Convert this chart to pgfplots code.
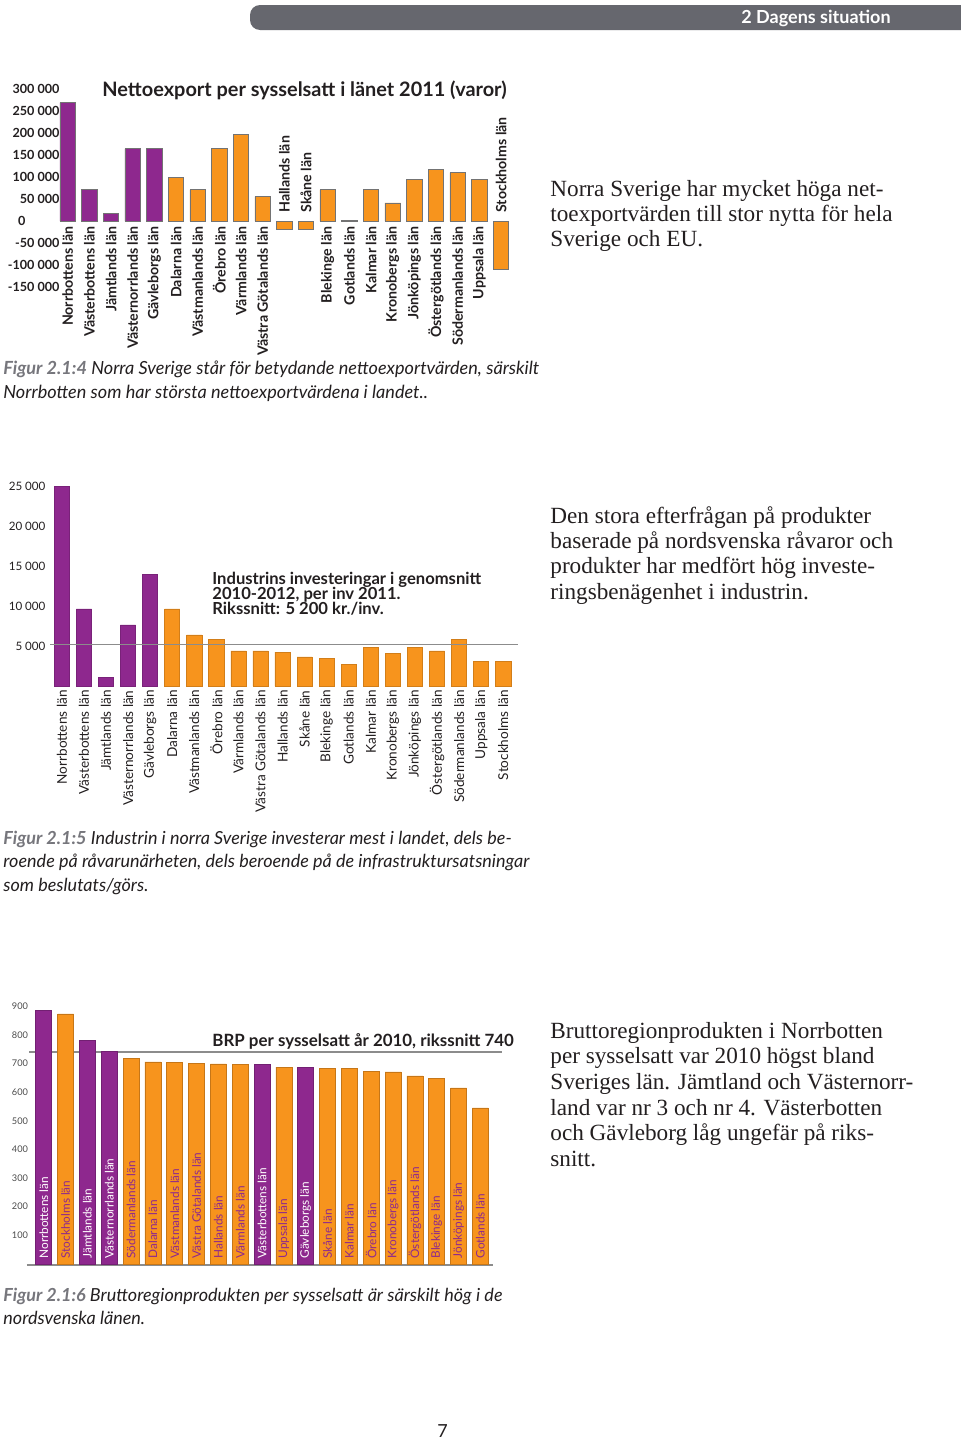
\documentclass[border=0pt]{standalone}
\usepackage{pgfplots}
\pgfplotsset{compat=1.18}
\usepackage{fontspec}
\setmainfont{Lato}
\newfontfamily\serif{Liberation Serif}
\definecolor{purp}{HTML}{8E288E}
\definecolor{orng}{HTML}{F7941D}
\definecolor{hdr}{HTML}{66676E}
\definecolor{txt}{HTML}{231F20}
\definecolor{figg}{HTML}{76767C}
\definecolor{lin}{HTML}{8C8C8C}
\newcommand{\fs}[1]{\fontsize{#1}{#1}\selectfont}
\newcommand{\tl}[4]{\node[anchor=base west, inner sep=0pt, text=txt, font=#3] at (#1,#2) {#4};}
\newcommand{\la}[2]{\node[yshift=-2.5pt, rotate=90, anchor=east, inner sep=0pt, font=\bfseries\fs{7.1}, text=txt] at (axis cs:#1,0) {#2};}
\newcommand{\lb}[2]{\node[yshift=4pt, rotate=90, anchor=west, inner sep=0pt, font=\bfseries\fs{7.1}, text=txt] at (axis cs:#1,0) {#2};}
\newcommand{\lc}[3]{\node[yshift=2.5pt, rotate=90, anchor=west, inner sep=0pt, font=\fs{5.9}, text=#3] at (axis cs:#1,0) {#2};}
\pgfplotsset{scaled y ticks=false}
\begin{document}
\begin{tikzpicture}[x=0.5pt,y=-0.5pt]
\path[use as bounding box] (0,0) rectangle (960,1440);
\fill[white] (0,0) rectangle (960,1440);
% header
\fill[hdr, rounded corners=5pt] (250,5) rectangle (990,30);
\node[anchor=base west, inner sep=0pt, text=white, font=\bfseries\fs{9}] at (741,24) {2 Dagens situation};

% ---------------- Chart 1 ----------------
\begin{axis}[at={(28.45pt,-44.5pt)}, anchor=north west, scale only axis,
  width=227.5pt, height=99pt, xmin=-0.5, xmax=20.5, ymin=-150000, ymax=300000,
  axis line style={draw=none}, major tick length=0pt, xtick=\empty,
  ytick={-150000,-100000,-50000,0,50000,100000,150000,200000,250000,300000},
  yticklabels={-150 000,-100 000,-50 000,{0\hspace*{17pt}},50 000,100 000,150 000,200 000,250 000,300 000},
  yticklabel style={font=\bfseries\fs{6.3}, anchor=east, inner sep=0pt, xshift=1.5pt, text=txt},
  clip=false]
\addplot[ybar, bar width=7.8pt, bar shift=0pt, fill=purp, draw=black!55, line width=0.4pt]
  coordinates {(0,269000)(1,71000)(2,18000)(3,164000)(4,164000)};
\addplot[ybar, bar width=7.8pt, bar shift=0pt, fill=orng, draw=black!55, line width=0.4pt]
  coordinates {(5,98000)(6,71000)(7,164000)(8,196000)(9,55500)(10,-18000)(11,-18000)(12,71000)(13,500)(14,71000)(15,41000)(16,93500)(17,117000)(18,110000)(19,93500)(20,-110000)};
\la{0}{Norrbottens län}
\la{1}{Västerbottens län}
\la{2}{Jämtlands län}
\la{3}{Västernorrlands län}
\la{4}{Gävleborgs län}
\la{5}{Dalarna län}
\la{6}{Västmanlands län}
\la{7}{Örebro län}
\la{8}{Värmlands län}
\la{9}{Västra Götalands län}
\lb{10}{Hallands län}
\lb{11}{Skåne län}
\la{12}{Blekinge län}
\la{13}{Gotlands län}
\la{14}{Kalmar län}
\la{15}{Kronobergs län}
\la{16}{Jönköpings län}
\la{17}{Östergötlands län}
\la{18}{Södermanlands län}
\la{19}{Uppsala län}
\lb{20}{Stockholms län}
\end{axis}
\tl{102}{96}{\bfseries\fs{9.95}}{Nettoexport per sysselsatt i länet 2011 (varor)}
\tl{550}{196}{\serif\fs{11.6}}{Norra Sverige har mycket höga net-}
\tl{550}{221}{\serif\fs{11.6}}{toexportvärden till stor nytta för hela}
\tl{550}{246}{\serif\fs{11.6}}{Sverige och EU.}
\tl{3}{374}{\itshape\fs{9.05}}{{\color{figg}\bfseries Figur 2.1:4} Norra Sverige står för betydande nettoexportvärden, särskilt}
\tl{3}{398}{\itshape\fs{9.05}}{Norrbotten som har största nettoexportvärdena i landet..}

% ---------------- Chart 2 ----------------
\begin{axis}[at={(25.4pt,-343pt)}, anchor=south west, scale only axis,
  width=231.75pt, height=100pt, xmin=-0.5, xmax=20.5, ymin=0, ymax=25000,
  axis line style={draw=none}, major tick length=0pt,
  ytick={5000,10000,15000,20000,25000}, yticklabels={5 000,10 000,15 000,20 000,25 000},
  yticklabel style={font=\fs{5.8}, anchor=east, inner sep=0pt, xshift=-2.5pt, text=txt},
  xtick={0,...,20},
  xticklabels={Norrbottens län,Västerbottens län,Jämtlands län,Västernorrlands län,Gävleborgs län,Dalarna län,Västmanlands län,Örebro län,Värmlands län,Västra Götalands län,Hallands län,Skåne län,Blekinge län,Gotlands län,Kalmar län,Kronobergs län,Jönköpings län,Östergötlands län,Södermanlands län,Uppsala län,Stockholms län},
  xticklabel style={yshift=-2pt, rotate=90, anchor=east, inner sep=0pt, font=\fs{6.8}, text=txt},
  clip=false]
\addplot[ybar, bar width=7.6pt, bar shift=0pt, fill=purp, draw=purp!85!black, line width=0.3pt]
  coordinates {(0,25000)(1,9650)(2,1100)(3,7650)(4,14000)};
\addplot[ybar, bar width=7.6pt, bar shift=0pt, fill=orng, draw=orng!85!black, line width=0.3pt]
  coordinates {(5,9650)(6,6400)(7,5850)(8,4400)(9,4400)(10,4250)(11,3650)(12,3450)(13,2700)(14,4850)(15,4100)(16,4850)(17,4400)(18,5850)(19,3050)(20,3050)};
\draw[lin, line width=0.75pt] (axis cs:-0.53,5200) -- (axis cs:20.67,5200);
\end{axis}
\tl{212}{584}{\bfseries\fs{8.3}}{Industrins investeringar i genomsnitt}
\tl{212}{599}{\bfseries\fs{8.3}}{2010-2012, per inv 2011.}
\tl{212}{614}{\bfseries\fs{8.3}}{Rikssnitt: 5 200 kr./inv.}
\tl{550}{523}{\serif\fs{11.6}}{Den stora efterfrågan på produkter}
\tl{550}{548}{\serif\fs{11.6}}{baserade på nordsvenska råvaror och}
\tl{550}{573.5}{\serif\fs{11.6}}{produkter har medfört hög investe-}
\tl{550}{599}{\serif\fs{11.6}}{ringsbenägenhet i industrin.}
\tl{3}{844}{\itshape\fs{9.0}}{{\color{figg}\bfseries Figur 2.1:5} Industrin i norra Sverige investerar mest i landet, dels be-}
\tl{3}{867.5}{\itshape\fs{9.0}}{roende på råvarunärheten, dels beroende på de infrastruktursatsningar}
\tl{3}{891}{\itshape\fs{9.0}}{som beslutats/görs.}

% ---------------- Chart 3 ----------------
\begin{axis}[at={(16.4pt,-631.9pt)}, anchor=south west, scale only axis,
  width=229.25pt, height=128.7pt, xmin=-0.5, xmax=20.5, ymin=0, ymax=900,
  axis line style={draw=none}, major tick length=0pt, xtick=\empty,
  ytick={100,200,300,400,500,600,700,800,900},
  yticklabels={100,200,300,400,500,600,700,800,900},
  yticklabel style={font=\fs{4.6}, anchor=east, inner sep=0pt, xshift=-2.2pt, text=black!70},
  clip=false]
\draw[lin, line width=0.75pt] (axis cs:-0.77,-4) -- (axis cs:20.58,-4);
\draw[lin, line width=0.75pt] (axis cs:-0.67,740) -- (axis cs:21.0,740);
\addplot[ybar, bar width=8pt, bar shift=0pt, fill=purp, draw=purp!80!black, line width=0.3pt]
  coordinates {(0,886)(2,780)(3,744)(10,698)(12,688)};
\addplot[ybar, bar width=8pt, bar shift=0pt, fill=orng, draw=orng!80!black, line width=0.3pt]
  coordinates {(1,874)(4,719)(5,706)(6,704)(7,702)(8,699)(9,698)(11,688)(13,684)(14,682)(15,674)(16,671)(17,657)(18,647)(19,615)(20,545)};
\lc{0}{Norrbottens län}{white}
\lc{1}{Stockholms län}{purp}
\lc{2}{Jämtlands län}{white}
\lc{3}{Västernorrlands län}{white}
\lc{4}{Södermanlands län}{purp}
\lc{5}{Dalarna län}{purp}
\lc{6}{Västmanlands län}{purp}
\lc{7}{Västra Götalands län}{purp}
\lc{8}{Hallands län}{purp}
\lc{9}{Värmlands län}{purp}
\lc{10}{Västerbottens län}{white}
\lc{11}{Uppsala län}{purp}
\lc{12}{Gävleborgs län}{white}
\lc{13}{Skåne län}{purp}
\lc{14}{Kalmar län}{purp}
\lc{15}{Örebro län}{purp}
\lc{16}{Kronobergs län}{purp}
\lc{17}{Östergötlands län}{purp}
\lc{18}{Blekinge län}{purp}
\lc{19}{Jönköpings län}{purp}
\lc{20}{Gotlands län}{purp}
\end{axis}
\tl{212}{1046}{\bfseries\fs{8.45}}{BRP per sysselsatt år 2010, rikssnitt 740}
\tl{550}{1038}{\serif\fs{11.6}}{Bruttoregionprodukten i Norrbotten}
\tl{550}{1063}{\serif\fs{11.6}}{per sysselsatt var 2010 högst bland}
\tl{550}{1089}{\serif\fs{11.6}}{Sveriges län. Jämtland och Västernorr-}
\tl{550}{1115}{\serif\fs{11.6}}{land var nr 3 och nr 4. Västerbotten}
\tl{550}{1140}{\serif\fs{11.6}}{och Gävleborg låg ungefär på riks-}
\tl{550}{1166}{\serif\fs{11.6}}{snitt.}
\tl{3}{1301}{\itshape\fs{9.0}}{{\color{figg}\bfseries Figur 2.1:6} Bruttoregionprodukten per sysselsatt är särskilt hög i de}
\tl{3}{1324}{\itshape\fs{9.0}}{nordsvenska länen.}
\tl{437}{1437}{\fs{9}}{7}
\end{tikzpicture}
\end{document}
